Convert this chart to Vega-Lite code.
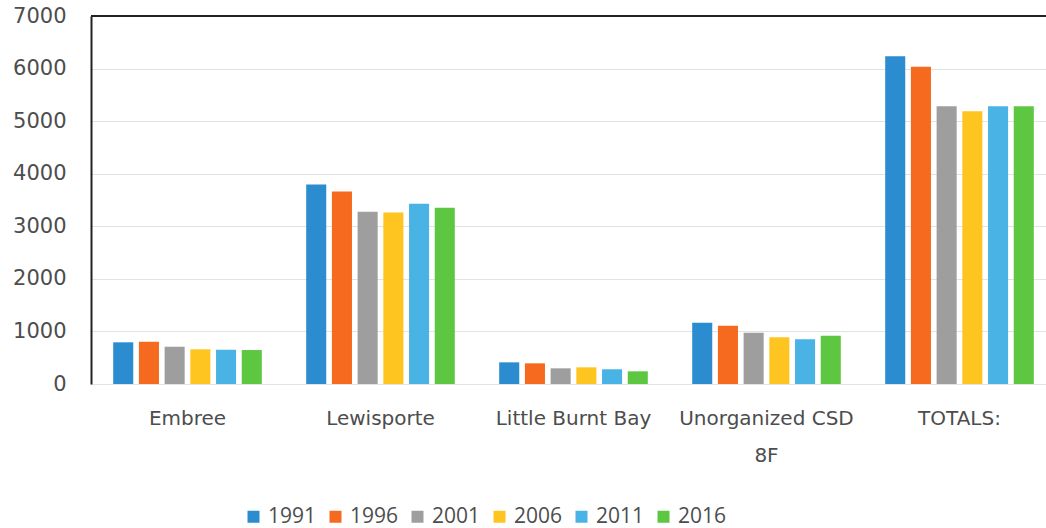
{
  "$schema": "https://vega.github.io/schema/vega-lite/v6.json",
  "autosize": "none",
  "width": 965,
  "height": 368,
  "padding": {"left": 91, "top": 16, "right": 0, "bottom": 144},
  "background": "white",
  "data": {
    "values": [
      {"place": "Embree", "year": "1991", "value": 793},
      {"place": "Embree", "year": "1996", "value": 804},
      {"place": "Embree", "year": "2001", "value": 709},
      {"place": "Embree", "year": "2006", "value": 660},
      {"place": "Embree", "year": "2011", "value": 652},
      {"place": "Embree", "year": "2016", "value": 646},
      {"place": "Lewisporte", "year": "1991", "value": 3796},
      {"place": "Lewisporte", "year": "1996", "value": 3663},
      {"place": "Lewisporte", "year": "2001", "value": 3276},
      {"place": "Lewisporte", "year": "2006", "value": 3264},
      {"place": "Lewisporte", "year": "2011", "value": 3428},
      {"place": "Lewisporte", "year": "2016", "value": 3352},
      {"place": "Little Burnt Bay", "year": "1991", "value": 412},
      {"place": "Little Burnt Bay", "year": "1996", "value": 393},
      {"place": "Little Burnt Bay", "year": "2001", "value": 298},
      {"place": "Little Burnt Bay", "year": "2006", "value": 317},
      {"place": "Little Burnt Bay", "year": "2011", "value": 279},
      {"place": "Little Burnt Bay", "year": "2016", "value": 241},
      {"place": "Unorganized CSD 8F", "year": "1991", "value": 1166},
      {"place": "Unorganized CSD 8F", "year": "1996", "value": 1108},
      {"place": "Unorganized CSD 8F", "year": "2001", "value": 975},
      {"place": "Unorganized CSD 8F", "year": "2006", "value": 888},
      {"place": "Unorganized CSD 8F", "year": "2011", "value": 850},
      {"place": "Unorganized CSD 8F", "year": "2016", "value": 918},
      {"place": "TOTALS:", "year": "1991", "value": 6236},
      {"place": "TOTALS:", "year": "1996", "value": 6033},
      {"place": "TOTALS:", "year": "2001", "value": 5285},
      {"place": "TOTALS:", "year": "2006", "value": 5190},
      {"place": "TOTALS:", "year": "2011", "value": 5285},
      {"place": "TOTALS:", "year": "2016", "value": 5285}
    ]
  },
  "layer": [
    {
      "mark": {"type": "bar"},
      "encoding": {
        "x": {
          "field": "place",
          "type": "nominal",
          "sort": null,
          "scale": {"paddingInner": 0.23, "paddingOuter": 0.115},
          "axis": {
            "title": null,
            "domain": false,
            "ticks": false,
            "labelAngle": 0,
            "labelFont": "DejaVu Sans",
            "labelFontSize": 20,
            "labelColor": "#4d4d4d",
            "labelPadding": 24,
            "labelLineHeight": 37,
            "labelBaseline": "top",
            "labelExpr": "datum.value == 'Unorganized CSD 8F' ? ['Unorganized CSD', '8F'] : datum.value"
          }
        },
        "xOffset": {
          "field": "year",
          "type": "nominal",
          "scale": {"paddingInner": 0.22, "paddingOuter": 0}
        },
        "y": {
          "field": "value",
          "type": "quantitative",
          "scale": {"domain": [0, 7000], "nice": false},
          "axis": {
            "title": null,
            "values": [0, 1000, 2000, 3000, 4000, 5000, 6000, 7000],
            "format": "d",
            "domain": true,
            "domainColor": "#222222",
            "domainWidth": 2,
            "ticks": false,
            "grid": true,
            "gridColor": "#e2e2e2",
            "gridWidth": 1,
            "labelFont": "DejaVu Sans",
            "labelFontSize": 21,
            "labelColor": "#4d4d4d",
            "labelPadding": 25
          }
        },
        "color": {
          "field": "year",
          "type": "nominal",
          "scale": {
            "domain": ["1991", "1996", "2001", "2006", "2011", "2016"],
            "range": ["#2b8ccf", "#f56a1e", "#9e9e9e", "#fec41f", "#4ab3e6", "#5ec742"]
          },
          "legend": {
            "title": null,
            "orient": "none",
            "legendX": 152,
            "legendY": 490,
            "direction": "horizontal",
            "symbolType": "square",
            "symbolSize": 144,
            "symbolStrokeWidth": 0,
            "labelFont": "Open Sans",
            "labelFontSize": 21,
            "labelColor": "#4d4d4d",
            "labelOffset": 4,
            "columnPadding": 8
          }
        }
      }
    },
    {
      "mark": {"type": "rule", "color": "#222222", "strokeWidth": 2},
      "encoding": {"y": {"datum": 7000}}
    }
  ],
  "config": {"view": {"stroke": null}}
}
